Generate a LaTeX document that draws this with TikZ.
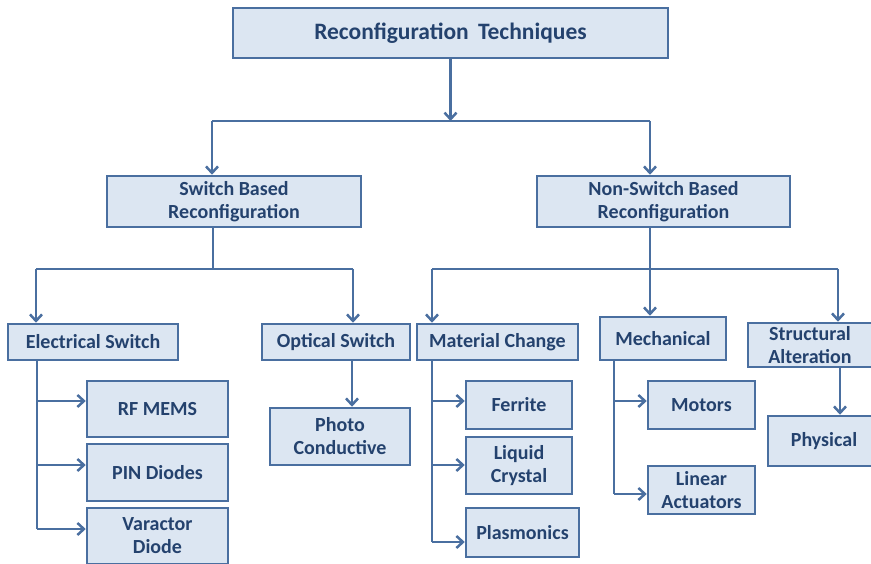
\documentclass[tikz,border=0pt]{standalone}
\usepackage{fontspec}
\setmainfont{Carlito}
\usetikzlibrary{arrows.meta}
\definecolor{boxfill}{RGB}{220,230,242}
\definecolor{boxline}{RGB}{74,111,160}
\definecolor{boxtext}{RGB}{36,66,110}
\tikzset{
  box/.style={draw=boxline, fill=boxfill, line width=2.5pt, inner sep=0pt,
    align=center, text=boxtext, font=\bfseries\fontsize{20}{23}\selectfont},
  wire/.style={draw=boxline, line width=2.5pt},
  arr/.style={wire, -{Straight Barb[length=6.5pt,width=12pt,line width=2.5pt]}}
}
\begin{document}
\begin{tikzpicture}[x=1pt,y=-1pt]
\useasboundingbox (0,0) rectangle (871,564);
\fill[white] (0,0) rectangle (871,564);

% level 1
\node[box, minimum width=435pt, minimum height=50pt, font=\bfseries\fontsize{23.5}{28}\selectfont]
  (top) at (450.5,33) {Reconfiguration\, Techniques};

% level 2
\node[box, minimum width=254pt, minimum height=51pt] (sw) at (234,201.5)
  {Switch Based\\Reconfiguration};
\node[box, minimum width=253pt, minimum height=51pt] (nsw) at (663.5,201.5)
  {Non-Switch Based\\Reconfiguration};

% level 3
\node[box, minimum width=170pt, minimum height=36pt] (es) at (93,342) {Electrical Switch};
\node[box, minimum width=148pt, minimum height=36pt] (os) at (336,342) {Optical Switch};
\node[box, minimum width=161pt, minimum height=36pt] (mc) at (497.5,342) {Material Change};
\node[box, minimum width=126pt, minimum height=43pt] (mech) at (663,338.5) {Mechanical};
\node[box, minimum width=124pt, minimum height=44pt] (sa) at (810,345)
  {Structural\\Alteration};

% level 4
\node[box, minimum width=141pt, minimum height=56pt] (rf) at (157.5,409) {RF MEMS};
\node[box, minimum width=141pt, minimum height=57pt] (pin) at (157.5,472.5) {PIN Diodes};
\node[box, minimum width=141pt, minimum height=56pt] (var) at (157.5,536) {Varactor\\Diode};
\node[box, minimum width=140pt, minimum height=57pt] (pc) at (340,436.5) {Photo\\Conductive};
\node[box, minimum width=106pt, minimum height=48pt] (fer) at (519,405) {Ferrite};
\node[box, minimum width=106pt, minimum height=57pt] (lc) at (519,465.5) {Liquid\\Crystal};
\node[box, minimum width=113pt, minimum height=49pt] (pl) at (522.5,532.5) {Plasmonics};
\node[box, minimum width=107pt, minimum height=48pt] (mot) at (701.5,405) {Motors};
\node[box, minimum width=107pt, minimum height=48pt] (la) at (701.5,490) {Linear\\Actuators};
\node[box, minimum width=112pt, minimum height=50pt] (phy) at (824,441) {Physical};

% branch points
\coordinate (t1) at (450.5,121);
\coordinate (t1L) at (212,121);
\coordinate (t1R) at (650,121);
\coordinate (s1) at (213,269);
\coordinate (s1L) at (36,269);
\coordinate (s1R) at (353,269);
\coordinate (n1L) at (432,269);
\coordinate (n1M) at (650,269);
\coordinate (n1R) at (838,269);

% top to level 2
\draw[arr] (top.south -| t1) -- (t1);
\draw[wire] (t1L) -- (t1R);
\draw[arr] (t1L) -- (t1L |- sw.north);
\draw[arr] (t1R) -- (t1R |- nsw.north);

% switch based to level 3
\draw[wire] (s1 |- sw.south) -- (s1);
\draw[wire] (s1L) -- (s1R);
\draw[arr] (s1L) -- (s1L |- es.north);
\draw[arr] (s1R) -- (s1R |- os.north);

% non-switch based to level 3
\draw[wire] (n1L) -- (n1R);
\draw[arr] (n1M |- nsw.south) -- (n1M |- mech.north);
\draw[arr] (n1L) -- (n1L |- mc.north);
\draw[arr] (n1R) -- (n1R |- sa.north);

% electrical switch branches
\coordinate (e1) at (37,401);
\coordinate (e2) at (37,465);
\coordinate (e3) at (37,529);
\draw[wire] (e1 |- es.south) -- (e3);
\draw[arr] (e1) -- (e1 -| rf.west);
\draw[arr] (e2) -- (e2 -| pin.west);
\draw[arr] (e3) -- (e3 -| var.west);

% optical switch
\coordinate (o1) at (352,0);
\draw[arr] (o1 |- os.south) -- (o1 |- pc.north);

% material change branches
\coordinate (m1) at (432,401);
\coordinate (m2) at (432,465);
\coordinate (m3) at (432,542);
\draw[wire] (m1 |- mc.south) -- (m3);
\draw[arr] (m1) -- (m1 -| fer.west);
\draw[arr] (m2) -- (m2 -| lc.west);
\draw[arr] (m3) -- (m3 -| pl.west);

% mechanical branches
\coordinate (k1) at (614,401);
\coordinate (k2) at (614,494);
\draw[wire] (k1 |- mech.south) -- (k2);
\draw[arr] (k1) -- (k1 -| mot.west);
\draw[arr] (k2) -- (k2 -| la.west);

% structural alteration
\coordinate (a1) at (840,0);
\draw[arr] (a1 |- sa.south) -- (a1 |- phy.north);
\end{tikzpicture}
\end{document}
